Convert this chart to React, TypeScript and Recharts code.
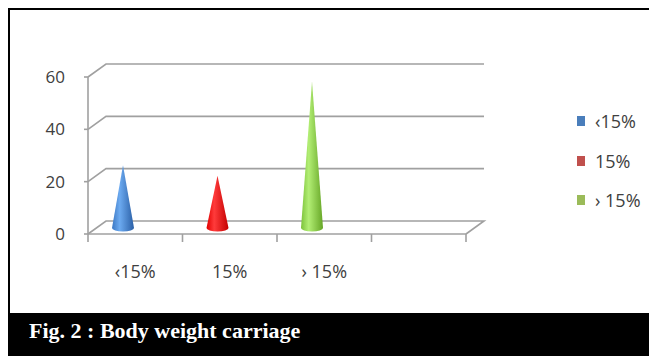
import React from 'react'
import { BarChart, Bar, XAxis, YAxis, CartesianGrid } from 'recharts'

const categories = ['‹15%', '15%', '› 15%', '']
const values: (number | null)[] = [24, 20, 56, null]
const yTicks = [0, 20, 40, 60]
const legendLabels = ['‹15%', '15%', '› 15%']

const coneShades = [
  ['#3b78c4', '#6caaf0', '#2a5fa6'],
  ['#e00000', '#ff3b3b', '#c40000'],
  ['#7cc23a', '#b2ee74', '#66a626'],
]
const legendColors = ['#4a7ebb', '#c0504d', '#9bbb59']

const data = categories.map((name, i) => ({ name, value: values[i] }))

const DX = 18
const DY = 13
const gridColor = '#a0a0a0'
const textColor = '#404040'
const font = '"Open Sans", sans-serif'

const Cone = (p: any) => {
  const { x, y, width, height, index } = p
  if (!height || height <= 0) return <g />
  const cx = x + width / 2 - 12
  const baseY = y + height - 6
  const tipY = y - 6
  const rx = width / 2
  const ry = 3.5
  const shades = coneShades[index % coneShades.length]
  const id = `cone-grad-${index}`
  return (
    <g>
      <defs>
        <linearGradient id={id} x1="0" y1="0" x2="1" y2="0">
          <stop offset="0%" stopColor={shades[0]} />
          <stop offset="35%" stopColor={shades[1]} />
          <stop offset="100%" stopColor={shades[2]} />
        </linearGradient>
      </defs>
      <path
        d={`M${cx - rx},${baseY} L${cx},${tipY} L${cx + rx},${baseY} A${rx},${ry} 0 0 1 ${cx - rx},${baseY} Z`}
        fill={`url(#${id})`}
      />
    </g>
  )
}

// back wall lines drawn from the y scale, shifted for the depth effect
const gridLine = (p: any) => {
  const { x1, y1, x2 } = p
  const floor = p.y != null && p.height != null && Math.abs(y1 - (p.y + p.height)) < 1
  let d = `M${x1},${y1} L${x1 + DX},${y1 - DY} L${x2 + DX},${y1 - DY}`
  if (floor) d += ` L${x2},${y1}`
  return <path key={p.key ?? `g${p.index}`} d={d} fill="none" stroke={gridColor} strokeWidth={1.6} />
}

const XTick = (p: any) => {
  const { x, y, payload, index, visibleTicksCount } = p
  const half = payload.offset ?? 0
  const top = y - 8
  return (
    <g>
      <line x1={x - half} y1={top} x2={x - half} y2={top + 8} stroke={gridColor} strokeWidth={1.6} />
      {index === visibleTicksCount - 1 && (
        <line x1={x + half} y1={top} x2={x + half} y2={top + 8} stroke={gridColor} strokeWidth={1.6} />
      )}
      <text x={x} y={y + 29} textAnchor="middle" dominantBaseline="central" fontSize={18} fill={textColor} fontFamily={font}>
        {payload.value}
      </text>
    </g>
  )
}

export default function App() {
  return (
    <div style={{ position: 'absolute', left: 0, top: 0, width: 649, height: 356, background: '#fff', overflow: 'hidden' }}>
      <div style={{ position: 'absolute', left: 8, top: 8, width: 641, height: 305, borderTop: '2.5px solid #000', borderLeft: '2.5px solid #000', boxSizing: 'border-box' }} />
      <div style={{ position: 'absolute', left: 0, top: 0 }}>
        <BarChart width={649} height={356} data={data} margin={{ top: 77, right: 183, bottom: 82, left: 28 }}>
          <CartesianGrid vertical={false} horizontal={gridLine} />
          <XAxis
            dataKey="name"
            height={40}
            tickSize={8}
            tickMargin={0}
            tickLine={false}
            axisLine={{ stroke: gridColor, strokeWidth: 1.6 }}
            tick={<XTick />}
            interval={0}
          />
          <YAxis
            width={60}
            domain={[0, 60]}
            ticks={yTicks}
            tickSize={4}
            tickMargin={19}
            axisLine={{ stroke: gridColor, strokeWidth: 1.6 }}
            tickLine={{ stroke: gridColor, strokeWidth: 1.6 }}
            tick={{ fontSize: 17, fill: textColor, fontFamily: font }}
          />
          <Bar dataKey="value" barSize={22} isAnimationActive={false} shape={(p: any) => <Cone {...p} />} />
        </BarChart>
      </div>
      {legendLabels.map((label, i) => (
        <div key={label} style={{ position: 'absolute', left: 577, top: 121 + i * 39.5 - 11, height: 22, display: 'flex', alignItems: 'center', fontFamily: font, fontSize: 18, color: textColor }}>
          <span style={{ display: 'inline-block', width: 8, height: 10, background: legendColors[i], marginRight: 10 }} />
          {label}
        </div>
      ))}
      <div style={{ position: 'absolute', left: 8, top: 313, width: 641, height: 43, background: '#000' }}>
        <div style={{ position: 'absolute', left: 21, top: 5, fontFamily: '"Liberation Serif", serif', fontWeight: 'bold', fontSize: 22, color: '#fff', whiteSpace: 'nowrap' }}>
          Fig. 2 : Body weight carriage
        </div>
      </div>
    </div>
  )
}
